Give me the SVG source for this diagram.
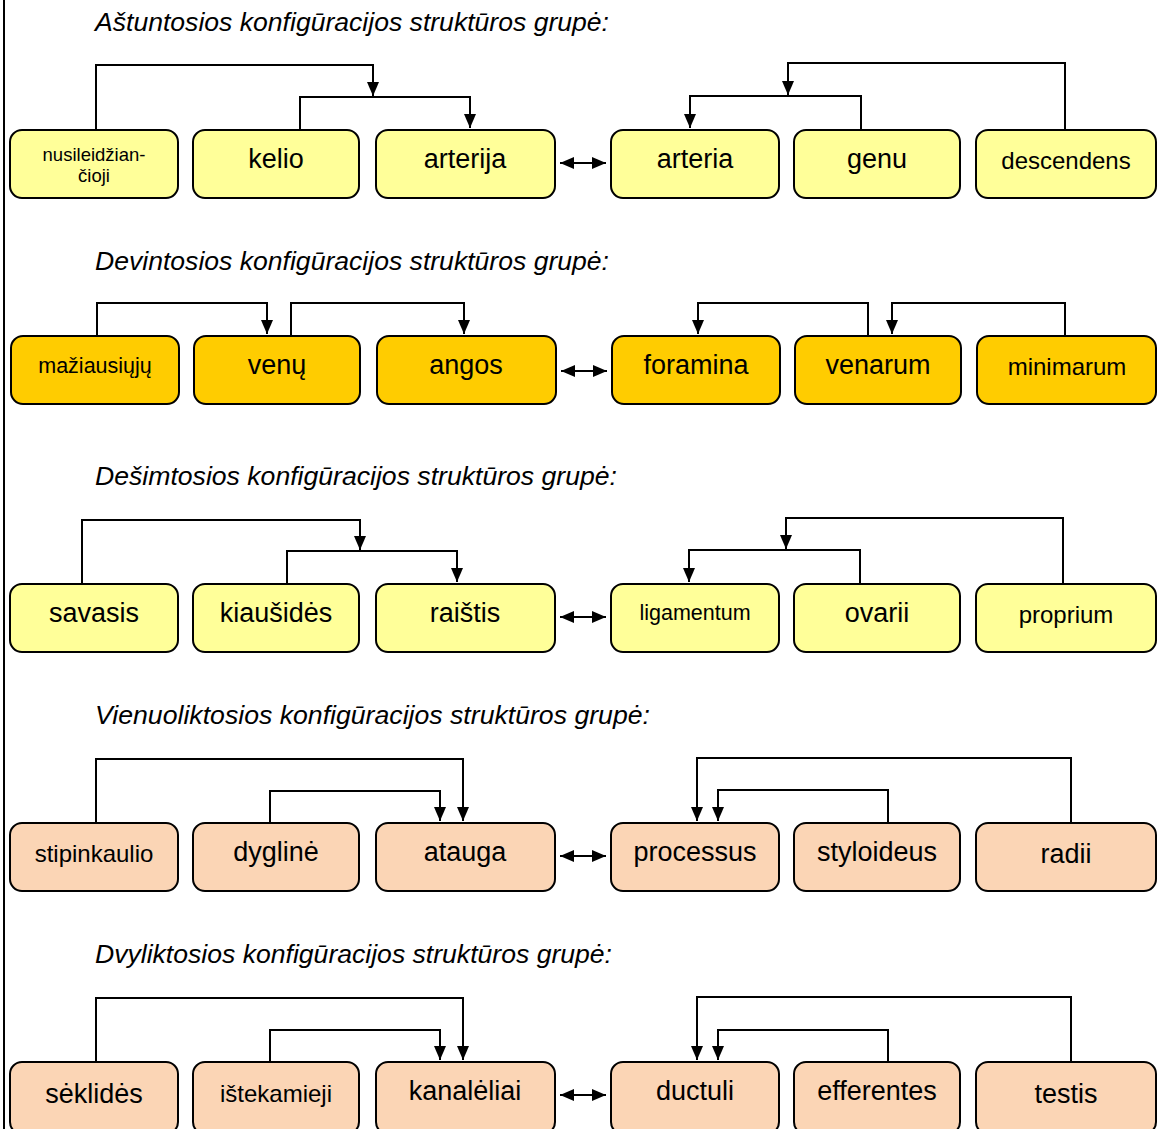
<svg xmlns="http://www.w3.org/2000/svg" width="1157" height="1129" viewBox="0 0 1157 1129">
<defs>
<marker id="ah" viewBox="0 0 14 12" refX="14" refY="6" markerWidth="14" markerHeight="12" markerUnits="userSpaceOnUse" orient="auto-start-reverse"><path d="M0,0 L14,6 L0,12 z" fill="#000"/></marker>
<style>
.t{font-family:"Liberation Sans",Arial,sans-serif;font-style:italic;font-size:25px;fill:#000}
.n{font-family:"Liberation Sans",Arial,sans-serif;font-size:27px;fill:#000;text-anchor:middle}
.m{font-size:24px}
.box{stroke:#000;stroke-width:2}
.y{fill:#FFFF99}.o{fill:#FFCC00}.p{fill:#FBD5B5}
.a{fill:none;stroke:#000;stroke-width:2;marker-end:url(#ah)}
.d{fill:none;stroke:#000;stroke-width:2;marker-end:url(#ah);marker-start:url(#ah)}
</style>
</defs>
<rect x="3" y="0" width="2" height="1129" fill="#000"/>
<g id="titles">
<text class="t" x="95" y="31" textLength="514" lengthAdjust="spacingAndGlyphs">Aštuntosios konfigūracijos struktūros grupė:</text>
<text class="t" x="95" y="270" textLength="514" lengthAdjust="spacingAndGlyphs">Devintosios konfigūracijos struktūros grupė:</text>
<text class="t" x="95" y="485" textLength="522" lengthAdjust="spacingAndGlyphs">Dešimtosios konfigūracijos struktūros grupė:</text>
<text class="t" x="95" y="724" textLength="555" lengthAdjust="spacingAndGlyphs">Vienuoliktosios konfigūracijos struktūros grupė:</text>
<text class="t" x="95" y="963" textLength="517" lengthAdjust="spacingAndGlyphs">Dvyliktosios konfigūracijos struktūros grupė:</text>
</g>
<g id="connectors">
<path class="a" d="M96,130 V65 H373 V96"/>
<path class="a" d="M300,130 V97 H470 V128"/>
<path class="a" d="M1065,130 V63 H788 V95"/>
<path class="a" d="M861,130 V96 H690 V128"/>
<path class="d" d="M560,163 H606"/>
<path class="a" d="M97,336 V303 H267 V334"/>
<path class="a" d="M291,336 V303 H464 V334"/>
<path class="a" d="M868,336 V303 H698 V334"/>
<path class="a" d="M1065,336 V303 H892 V334"/>
<path class="d" d="M561,371 H607"/>
<path class="a" d="M82,584 V520 H360 V550"/>
<path class="a" d="M287,584 V551 H457 V582"/>
<path class="a" d="M1063,584 V518 H786 V549"/>
<path class="a" d="M860,584 V550 H689 V582"/>
<path class="d" d="M560,617 H606"/>
<path class="a" d="M96,823 V759 H463 V821"/>
<path class="a" d="M270,823 V791 H440 V821"/>
<path class="a" d="M1071,823 V758 H697 V821"/>
<path class="a" d="M888,823 V790 H718 V821"/>
<path class="d" d="M560,856 H606"/>
<path class="a" d="M96,1062 V998 H463 V1060"/>
<path class="a" d="M270,1062 V1030 H440 V1060"/>
<path class="a" d="M1071,1062 V997 H697 V1060"/>
<path class="a" d="M888,1062 V1030 H718 V1060"/>
<path class="d" d="M560,1095 H606"/>
</g>
<g id="n1"><rect class="box y" x="10" y="130" width="168" height="68" rx="12"/><text class="n" x="94" y="161" style="font-size:18.5px">nusileidžian-</text><text class="n" x="94" y="182" style="font-size:18.5px">čioji</text></g>
<g id="n2"><rect class="box y" x="193" y="130" width="166" height="68" rx="12"/><text class="n" x="276" y="168">kelio</text></g>
<g id="n3"><rect class="box y" x="376" y="130" width="179" height="68" rx="12"/><text class="n" x="465" y="168">arterija</text></g>
<g id="n4"><rect class="box y" x="611" y="130" width="168" height="68" rx="12"/><text class="n" x="695" y="168">arteria</text></g>
<g id="n5"><rect class="box y" x="794" y="130" width="166" height="68" rx="12"/><text class="n" x="877" y="168">genu</text></g>
<g id="n6"><rect class="box y" x="976" y="130" width="180" height="68" rx="12"/><text class="n m" x="1066" y="169">descendens</text></g>

<g id="n7"><rect class="box o" x="11" y="336" width="168" height="68" rx="12"/><text class="n" x="95" y="373" style="font-size:21.5px">mažiausiųjų</text></g>
<g id="n8"><rect class="box o" x="194" y="336" width="166" height="68" rx="12"/><text class="n" x="277" y="374">venų</text></g>
<g id="n9"><rect class="box o" x="377" y="336" width="179" height="68" rx="12"/><text class="n" x="466" y="374">angos</text></g>
<g id="n10"><rect class="box o" x="612" y="336" width="168" height="68" rx="12"/><text class="n" x="696" y="374">foramina</text></g>
<g id="n11"><rect class="box o" x="795" y="336" width="166" height="68" rx="12"/><text class="n" x="878" y="374">venarum</text></g>
<g id="n12"><rect class="box o" x="977" y="336" width="179" height="68" rx="12"/><text class="n m" x="1067" y="375">minimarum</text></g>

<g id="n13"><rect class="box y" x="10" y="584" width="168" height="68" rx="12"/><text class="n" x="94" y="622">savasis</text></g>
<g id="n14"><rect class="box y" x="193" y="584" width="166" height="68" rx="12"/><text class="n" x="276" y="622">kiaušidės</text></g>
<g id="n15"><rect class="box y" x="376" y="584" width="179" height="68" rx="12"/><text class="n" x="465" y="622">raištis</text></g>
<g id="n16"><rect class="box y" x="611" y="584" width="168" height="68" rx="12"/><text class="n" x="695" y="620" style="font-size:21.5px">ligamentum</text></g>
<g id="n17"><rect class="box y" x="794" y="584" width="166" height="68" rx="12"/><text class="n" x="877" y="622">ovarii</text></g>
<g id="n18"><rect class="box y" x="976" y="584" width="180" height="68" rx="12"/><text class="n m" x="1066" y="623">proprium</text></g>

<g id="n19"><rect class="box p" x="10" y="823" width="168" height="68" rx="12"/><text class="n m" x="94" y="862">stipinkaulio</text></g>
<g id="n20"><rect class="box p" x="193" y="823" width="166" height="68" rx="12"/><text class="n" x="276" y="861">dyglinė</text></g>
<g id="n21"><rect class="box p" x="376" y="823" width="179" height="68" rx="12"/><text class="n" x="465" y="861">atauga</text></g>
<g id="n22"><rect class="box p" x="611" y="823" width="168" height="68" rx="12"/><text class="n" x="695" y="861">processus</text></g>
<g id="n23"><rect class="box p" x="794" y="823" width="166" height="68" rx="12"/><text class="n" x="877" y="861">styloideus</text></g>
<g id="n24"><rect class="box p" x="976" y="823" width="180" height="68" rx="12"/><text class="n" x="1066" y="863">radii</text></g>

<g id="n25"><rect class="box p" x="10" y="1062" width="168" height="72" rx="12"/><text class="n" x="94" y="1103">sėklidės</text></g>
<g id="n26"><rect class="box p" x="193" y="1062" width="166" height="72" rx="12"/><text class="n m" x="276" y="1102">ištekamieji</text></g>
<g id="n27"><rect class="box p" x="376" y="1062" width="179" height="72" rx="12"/><text class="n" x="465" y="1100">kanalėliai</text></g>
<g id="n28"><rect class="box p" x="611" y="1062" width="168" height="72" rx="12"/><text class="n" x="695" y="1100">ductuli</text></g>
<g id="n29"><rect class="box p" x="794" y="1062" width="166" height="72" rx="12"/><text class="n" x="877" y="1100">efferentes</text></g>
<g id="n30"><rect class="box p" x="976" y="1062" width="180" height="72" rx="12"/><text class="n" x="1066" y="1103">testis</text></g>
</svg>
